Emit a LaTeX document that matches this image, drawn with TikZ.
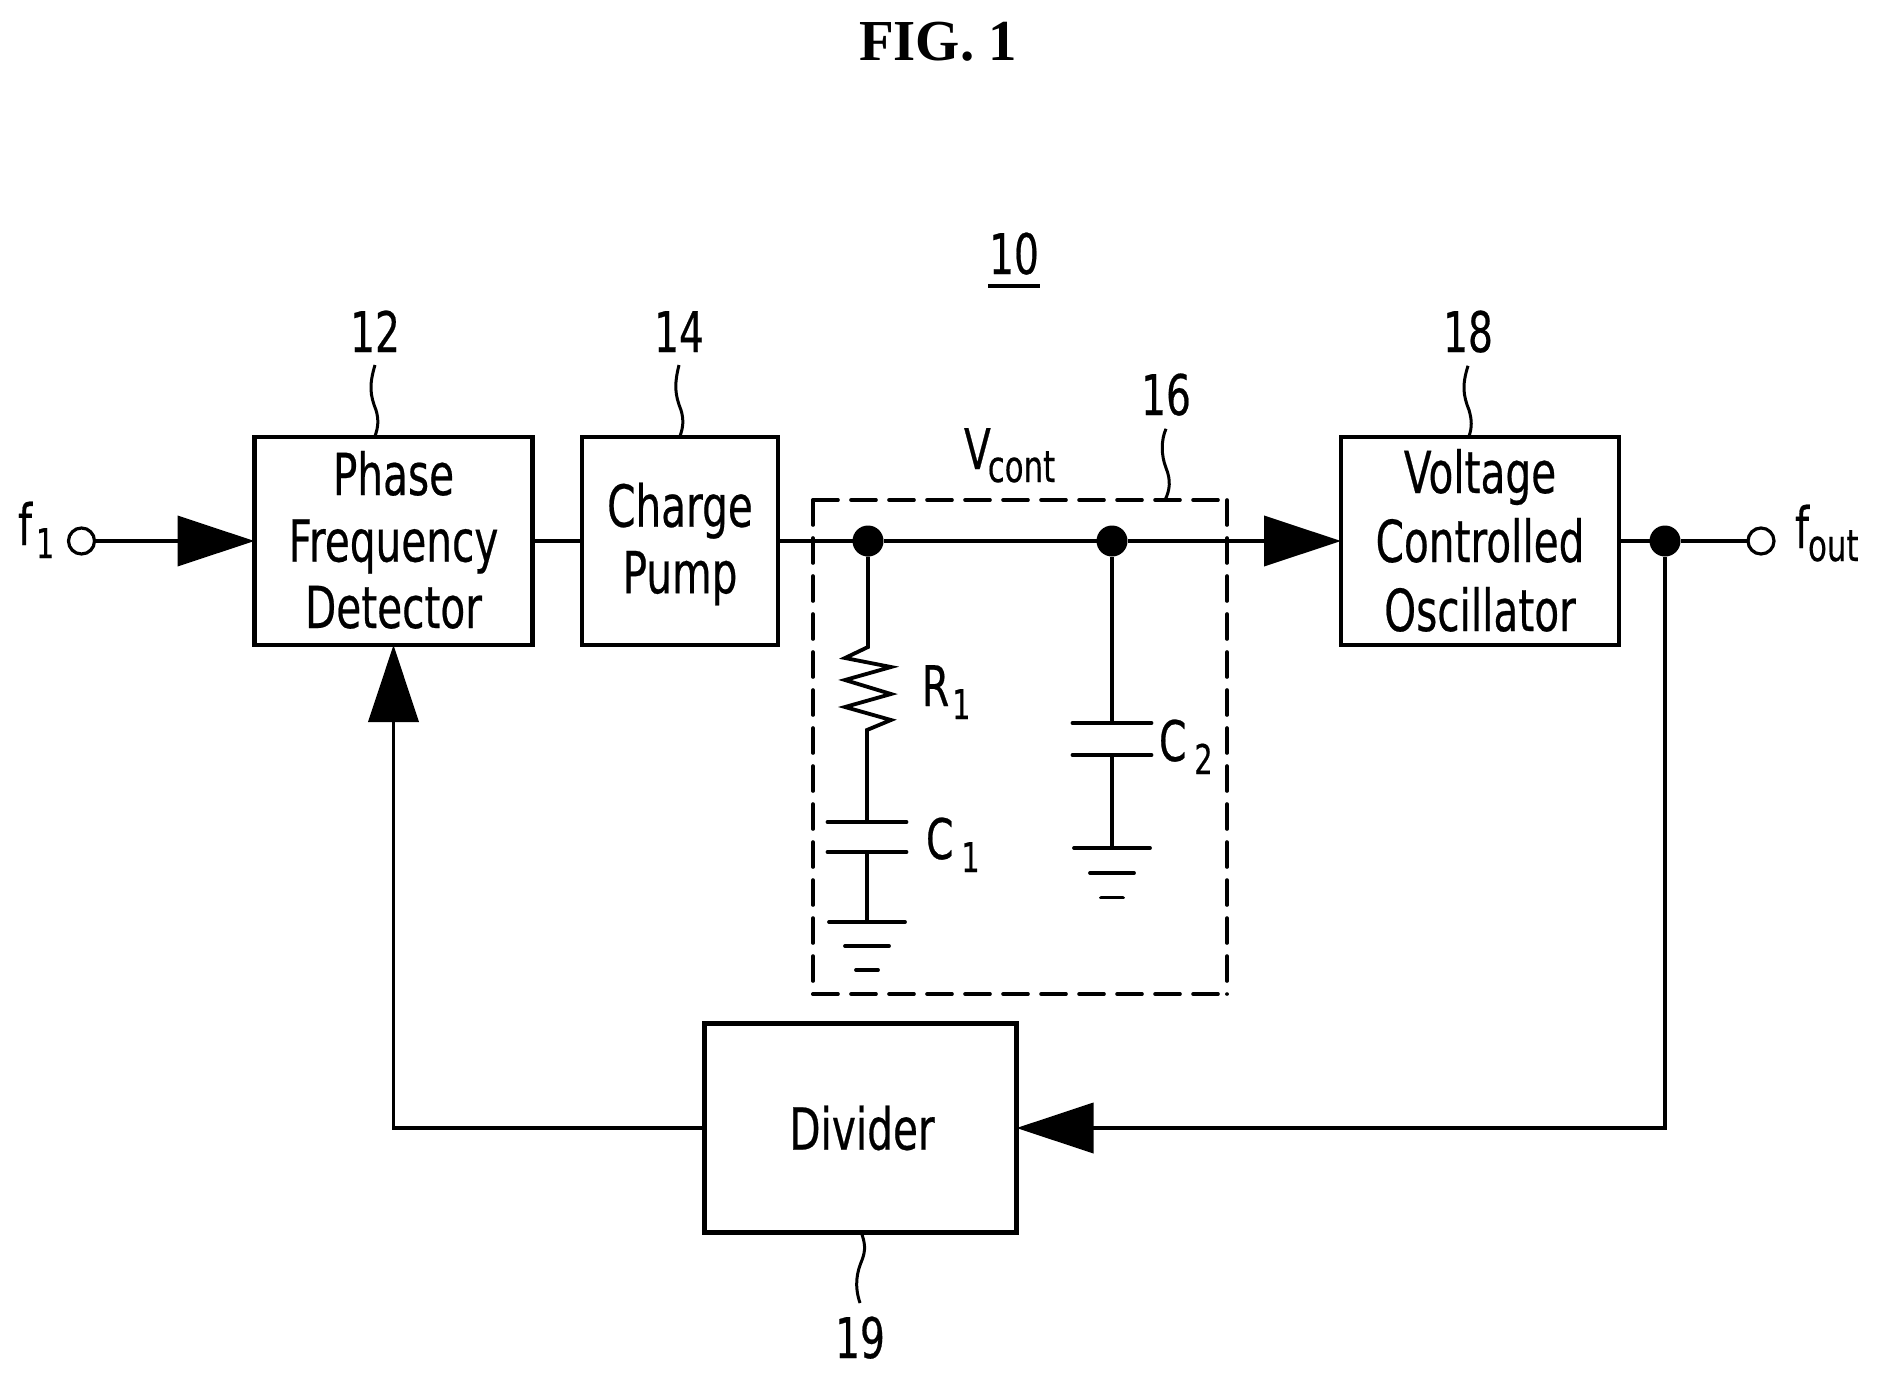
\documentclass[tikz,border=0pt]{standalone}
\usepackage{fontspec}
\setmainfont{DejaVu Sans}[FakeStretch=0.70,FakeBold=0.4]
\newfontfamily\titlefont{Liberation Serif}[FakeStretch=0.98]
\usetikzlibrary{arrows.meta}
\newcommand{\boxfont}{\fontsize{58}{66.5}\selectfont}
\newcommand{\numfont}{\fontsize{56}{60}\selectfont}
\newcommand{\subfont}{\fontsize{41}{45}\selectfont}
\newcommand{\symsub}[3]{#1\hspace{#3pt}\raisebox{-13pt}{\subfont #2}}
\tikzset{
  wire/.style={line width=3.8pt,black},
  bigtip/.style={-{Triangle[length=77pt,width=50pt]}},
  blockbox/.style={draw,line width=4.2pt,rectangle,inner sep=0pt,outer sep=0pt,align=center,font=\boxfont},
  jdot/.style={circle,fill=black,inner sep=0pt,outer sep=0pt,minimum size=31pt},
  term/.style={circle,draw,line width=3.2pt,fill=white,inner sep=0pt,outer sep=0pt,minimum size=26pt},
  lbl/.style={inner sep=0pt,outer sep=0pt,anchor=base,font=\numfont},
  sym/.style={inner sep=0pt,outer sep=0pt,anchor=base west,font=\numfont},
  leader/.style={line width=3pt,black},
  dashline/.style={line width=3.6pt,line cap=round,dash pattern=on 25pt off 13pt},
}
\begin{document}
\begin{tikzpicture}[x=1pt,y=-1pt]
\useasboundingbox (0,0) rectangle (1877,1379);
% title and reference numbers
\node[inner sep=0pt,anchor=base,font=\titlefont\fontsize{58}{60}\selectfont\bfseries] (title) at (938,60) {FIG. 1};
\node[lbl] (n10) at (1014,274) {10};
\draw[wire] (988,286) -- (1040,286);
\node[lbl] (n12) at (375,352) {12};
\node[lbl] (n14) at (679,352) {14};
\node[lbl] (n16) at (1166,415) {16};
\node[lbl] (n18) at (1468,352) {18};
\node[lbl] (n19) at (860,1358) {19};
% blocks
\node[blockbox,minimum width=278pt,minimum height=208pt] (pfd) at (393.5,541) {Phase\\Frequency\\Detector\rule[-3pt]{0pt}{3pt}};
\node[blockbox,minimum width=196pt,minimum height=208pt] (cp) at (680,541) {\rule{0pt}{50pt}Charge\\Pump};
\node[blockbox,minimum width=278pt,minimum height=208pt] (vco) at (1480,541) {Voltage\\[2.5pt]Controlled\\[2.5pt]Oscillator\rule[-2pt]{0pt}{2pt}};
\node[blockbox,minimum width=312pt,minimum height=209pt] (div) at (860.5,1128) {\hspace{3pt}Divider};
% filter outline
\node[inner sep=0pt,outer sep=0pt,minimum width=414pt,minimum height=494pt] (filter) at (1020,747) {};
\draw[dashline] (filter.north west) -- (filter.north east);
\draw[dashline] (filter.north west) -- (filter.south west);
\draw[dashline] (filter.south west) -- (filter.south east);
\draw[dashline] (filter.north east) -- (filter.south east);
% junctions and terminals
\node[term] (fin) at (81.5,541) {};
\node[term] (fout) at (1761,541) {};
\node[jdot] (d1) at (868,541) {};
\node[jdot] (d2) at (1112,541) {};
\node[jdot] (d3) at (1665,541) {};
\coordinate (fbr) at (1665,1128);
\coordinate (fbl) at (393.5,1128);
% main connectors
\draw[wire,bigtip] (fin) -- (pfd.west);
\draw[wire] (pfd) -- (cp);
\draw[wire] (cp) -- (d1);
\draw[wire] (d1) -- (d2);
\draw[wire,bigtip] (d2) -- (vco.west);
\draw[wire] (vco) -- (d3);
\draw[wire] (d3) -- (fout);
\draw[wire,bigtip] (d3) -- (fbr) -- (div.east);
\draw[wire,bigtip] (div.west) -- (fbl) -- (pfd.south);
% R1 branch
\coordinate (rt) at (868,647);
\coordinate (rb) at (867,730);
\coordinate (c1a) at (867,822);
\coordinate (c1b) at (867,852);
\coordinate (g1a) at (867,922);
\coordinate (g1b) at (867,946);
\coordinate (g1c) at (867,970);
\draw[wire,line join=miter] (d1) -- (rt) -- (845,658) -- (891,667) -- (845,680) -- (891,694) -- (845,707) -- (891,720) -- (rb) -- (c1a);
\draw[wire] (c1b) -- (g1a);
\draw[wire,line cap=round] ([xshift=-39.5pt]c1a) -- ([xshift=39.5pt]c1a);
\draw[wire,line cap=round] ([xshift=-39.5pt]c1b) -- ([xshift=39.5pt]c1b);
\draw[wire,line cap=round] ([xshift=-38pt]g1a) -- ([xshift=38pt]g1a);
\draw[wire,line cap=round] ([xshift=-22pt]g1b) -- ([xshift=22pt]g1b);
\draw[wire,line cap=round] ([xshift=-11pt]g1c) -- ([xshift=11pt]g1c);
% C2 branch
\coordinate (c2a) at (1112,723);
\coordinate (c2b) at (1112,755);
\coordinate (g2a) at (1112,848);
\coordinate (g2b) at (1112,873);
\coordinate (g2c) at (1112,897.5);
\draw[wire] (d2) -- (c2a);
\draw[wire] (c2b) -- (g2a);
\draw[wire,line cap=round] ([xshift=-39.5pt]c2a) -- ([xshift=39.5pt]c2a);
\draw[wire,line cap=round] ([xshift=-39.5pt]c2b) -- ([xshift=39.5pt]c2b);
\draw[wire,line cap=round] ([xshift=-38pt]g2a) -- ([xshift=38pt]g2a);
\draw[wire,line cap=round] ([xshift=-22pt]g2b) -- ([xshift=22pt]g2b);
\draw[wire,line cap=round] ([xshift=-11pt]g2c) -- ([xshift=11pt]g2c);
% symbols
\node[sym] (f1lab) at (18,545) {\fontsize{57}{60}\selectfont\symsub{f}{1}{4}};
\node[sym] (foutlab) at (1795,548) {\fontsize{57}{60}\selectfont\symsub{f}{\fontsize{44}{45}\selectfont out}{-1}};
\node[sym] (vlab) at (964,469) {\symsub{V}{\fontsize{44}{45}\selectfont cont}{-3}};
\node[sym] (r1lab) at (922,706) {\symsub{R}{1}{3}};
\node[sym] (c1lab) at (926,859) {\symsub{C}{1}{8}};
\node[sym] (c2lab) at (1159,761) {\symsub{C}{2}{8}};
% leader lines
\draw[leader] (n12.south) ++(0,13) .. controls (369,385) and (370,395) .. (376,410) .. controls (379,420) and (378,428) .. (375,436);
\draw[leader] (n14.south) ++(0,13) .. controls (674,385) and (675,395) .. (681,410) .. controls (684,420) and (683,428) .. (680,436);
\draw[leader] (n18.south) ++(0,13) .. controls (1462,385) and (1463,395) .. (1469,410) .. controls (1472,420) and (1472,428) .. (1469,436);
\draw[leader] (n16.south) ++(0,13) .. controls (1161,440) and (1161,455) .. (1166,468) .. controls (1171,480) and (1170,490) .. (1165,500);
\draw[leader] (861,1232) .. controls (865,1242) and (866,1250) .. (862,1260) .. controls (857,1272) and (854,1285) .. (860,1303);
\end{tikzpicture}
\end{document}
